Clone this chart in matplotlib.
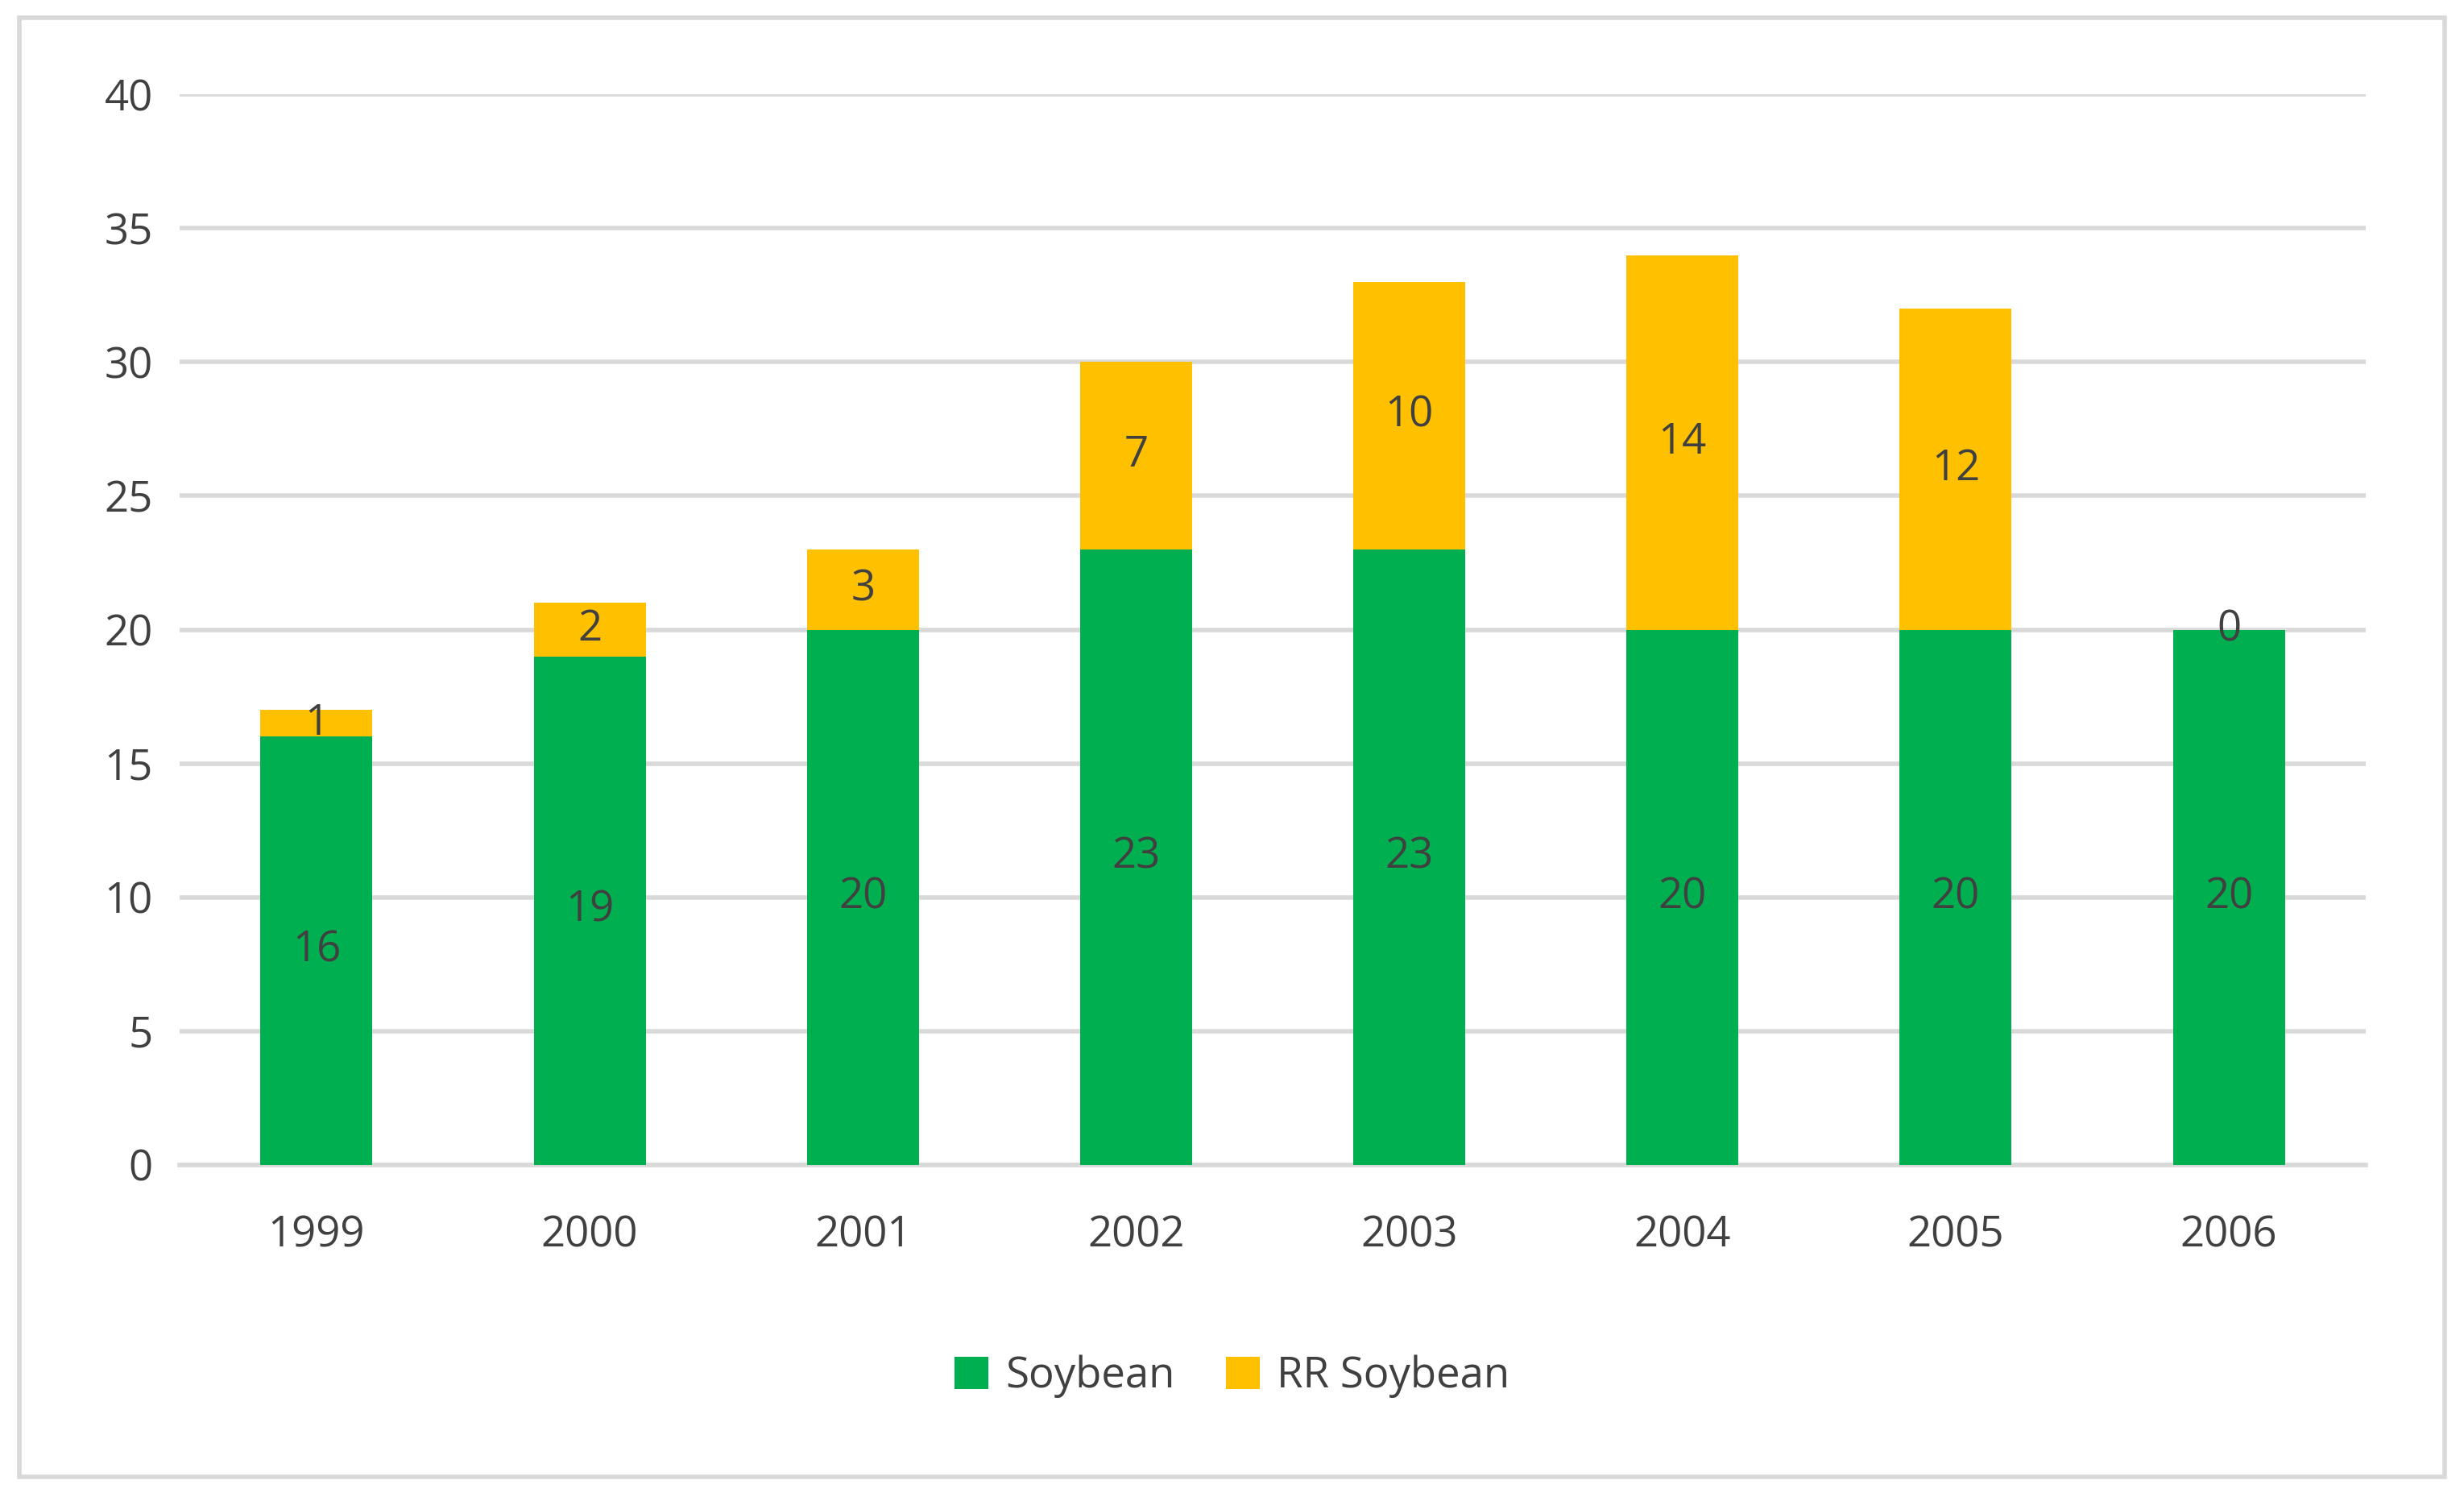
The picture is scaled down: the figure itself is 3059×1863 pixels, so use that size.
import matplotlib
matplotlib.use("Agg")
import matplotlib.pyplot as plt
from matplotlib.patches import Rectangle

years = ["1999", "2000", "2001", "2002", "2003", "2004", "2005", "2006"]
soybean = [16, 19, 20, 23, 23, 20, 20, 20]
rr_soybean = [1, 2, 3, 7, 10, 14, 12, 0]

plt.rcParams['font.family'] = ['Open Sans', 'DejaVu Sans']
fig = plt.figure(figsize=(15.295, 9.315), dpi=200)
fig.patches.append(Rectangle((0.008, 0.016), 0.984, 0.972, transform=fig.transFigure,
                             fill=False, edgecolor='#d9d9d9', linewidth=2))
ax = fig.add_axes([0.073, 0.224, 0.887, 0.713])
x = range(len(years))
green, gold, tc = '#00b050', '#ffc000', '#404040'
b1 = ax.bar(x, soybean, width=0.41, color=green, label='Soybean', zorder=3)
b2 = ax.bar(x, rr_soybean, width=0.41, bottom=soybean, color=gold, label='RR Soybean', zorder=3)
for i in x:
    ax.text(i, soybean[i] / 2, str(soybean[i]), ha='center', va='center', fontsize=19, color=tc, zorder=4)
    ax.text(i, soybean[i] + rr_soybean[i] / 2, str(rr_soybean[i]), ha='center', va='center', fontsize=19, color=tc, zorder=4)
ax.set_ylim(0, 40)
ax.set_xlim(-0.5, 7.5)
ax.set_yticks(range(0, 41, 5))
ax.set_xticks(list(x))
ax.set_xticklabels(years)
ax.grid(axis='y', color='#d9d9d9', linewidth=2, zorder=0)
for s in ['top', 'right', 'left']:
    ax.spines[s].set_visible(False)
ax.spines['bottom'].set_color('#d9d9d9')
ax.spines['bottom'].set_linewidth(2)
ax.tick_params(length=0, labelsize=19, labelcolor=tc, pad=12)
ax.tick_params(axis='x', pad=22)
fig.legend(handles=[b1, b2], loc='center', bbox_to_anchor=(0.5, 0.083), ncol=2, frameon=False,
           fontsize=19, labelcolor=tc, handlelength=0.8, handleheight=0.8, columnspacing=1.2, handletextpad=0.4)
fig.savefig('out.png', dpi=200)
